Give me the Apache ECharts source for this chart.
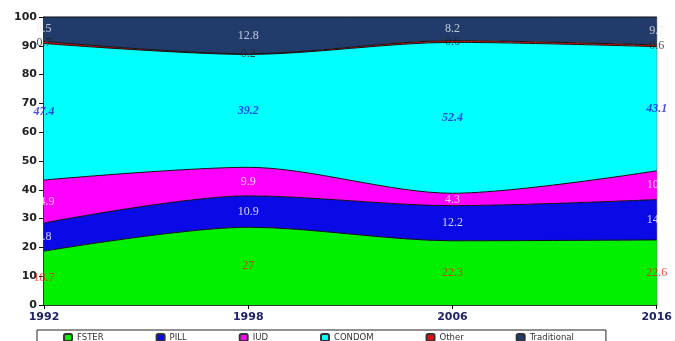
<!DOCTYPE html>
<html>
<head>
<meta charset="utf-8">
<script src="https://cdn.jsdelivr.net/npm/echarts@6/dist/echarts.min.js"></script>
<style>
  html, body { margin: 0; padding: 0; background: #fff; }
  #chart { width: 675px; height: 341px; }
</style>
</head>
<body>
<div id="chart"></div>
<script>
  // data
  var years = ['1992', '1998', '2006', '2016'];
  var fster = [18.7, 27, 22.3, 22.6];
  var pill = [9.8, 10.9, 12.2, 14];
  var iud = [14.9, 9.9, 4.3, 10];
  var condom = [47.4, 39.2, 52.4, 43.1];
  var other = [0.7, 0.2, 0.6, 0.6];
  var traditional = [8.5, 12.8, 8.2, 9.7];

  var names = ['FSTER', 'PILL', 'IUD', 'CONDOM', 'Other', 'Traditional'];
  var values = [fster, pill, iud, condom, other, traditional];
  var colors = ['#00f000', '#0a0ae6', '#ff00ff', '#00ffff', '#e01010', '#213c6a'];
  var labelColors = ['#f01a10', '#ffffff', '#ffffff', '#2020e0', '#222222', '#e8eaf2'];

  var myChart = echarts.init(document.getElementById('chart'));

  var series = [];
  names.forEach(function (n, k) {
    series.push({
      name: n,
      type: 'line',
      stack: 'all',
      smooth: 0.3,
      symbol: 'none',
      lineStyle: { color: '#111', width: 1 },
      areaStyle: { color: colors[k], opacity: 1 },
      itemStyle: { color: colors[k], borderColor: '#333', borderWidth: 0.5 },
      data: values[k]
    });
  });

  // labels sit in the middle of each band
  names.forEach(function (n, k) {
    var pts = years.map(function (y, i) {
      var below = 0;
      for (var j = 0; j < k; j++) below += values[j][i];
      var item = { value: [i, below + values[k][i] / 2, values[k][i]] };
      // short white labels at the right edge end at the axis
      if (i === years.length - 1 && (k === 1 || k === 2)) {
        item.label = { align: 'right', offset: [2, 0] };
      }
      return item;
    });
    series.push({
      type: 'scatter',
      symbolSize: 0,
      silent: true,
      z: 5,
      data: pts,
      label: {
        show: true,
        position: 'inside',
        formatter: function (p) { return p.value[2]; },
        color: labelColors[k],
        fontFamily: 'Liberation Serif',
        fontSize: 12,
        fontStyle: k === 3 ? 'italic' : 'normal',
        fontWeight: k === 3 ? 'bold' : 'normal'
      }
    });
  });

  var option = {
    animation: false,
    grid: {
      left: 44, right: 17, top: 17, bottom: 36,
      show: true, borderColor: '#555', borderWidth: 1
    },
    legend: {
      data: names,
      icon: 'roundRect',
      left: 37,
      top: 330,
      itemWidth: 8,
      itemHeight: 7,
      itemGap: 52,
      padding: [3, 32, 12, 26],
      borderColor: '#222',
      borderWidth: 1,
      textStyle: { fontFamily: 'DejaVu Sans', fontSize: 8.5, color: '#333' }
    },
    xAxis: {
      type: 'category',
      boundaryGap: false,
      data: years,
      axisLine: { lineStyle: { color: '#111', width: 1.5 } },
      axisTick: { show: true, length: 4, lineStyle: { color: '#111' } },
      axisLabel: { fontFamily: 'DejaVu Sans', fontWeight: 'bold', fontSize: 11, color: '#1f2366', margin: 7 },
      splitLine: { show: false }
    },
    yAxis: {
      type: 'value',
      min: 0,
      max: 100,
      interval: 10,
      axisLine: { show: true, lineStyle: { color: '#111', width: 1.5 } },
      axisTick: { show: true, length: 5, lineStyle: { color: '#111' } },
      axisLabel: { fontFamily: 'DejaVu Sans', fontWeight: 'bold', fontSize: 11, color: '#222', margin: 7 },
      splitLine: { show: false }
    },
    series: series
  };

  myChart.setOption(option, true);
</script>
</body>
</html>
